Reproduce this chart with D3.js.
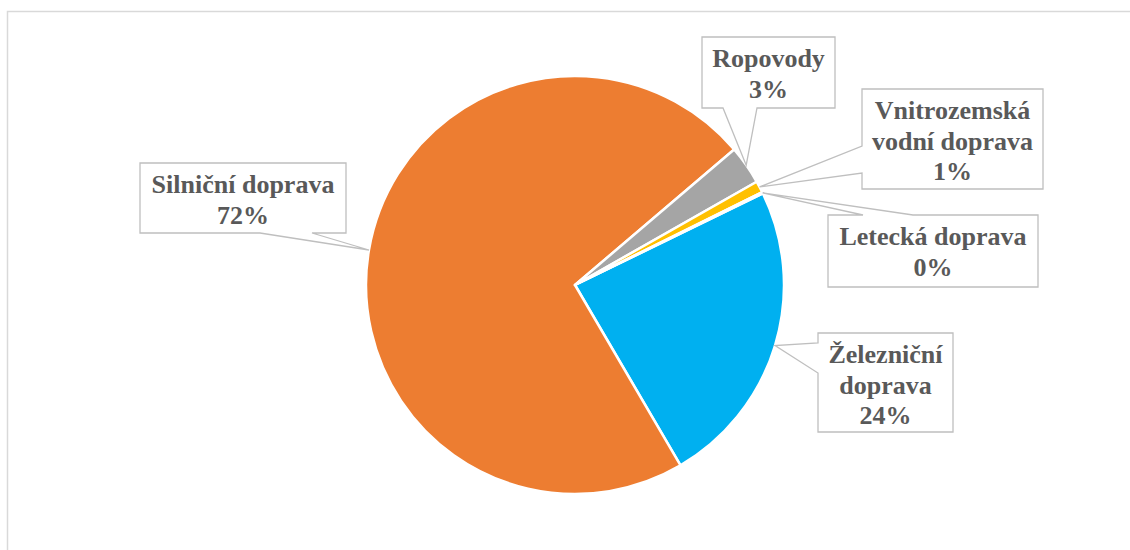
<!DOCTYPE html>
<html>
<head>
<meta charset="utf-8">
<script src="https://cdn.jsdelivr.net/npm/d3@7"></script>
<style>
  html, body { margin: 0; padding: 0; background: #fff; }
  svg { display: block; }
</style>
</head>
<body>
<svg id="chart" width="1130" height="550"></svg>
<script>
// Podíl druhů dopravy (%)
const categories = ["Železniční doprava", "Silniční doprava", "Ropovody", "Vnitrozemská vodní doprava", "Letecká doprava"];
const shares = [23.8, 72.2, 3.0, 0.9, 0.1];
const labelLines = [["Železniční", "doprava"], ["Silniční doprava"], ["Ropovody"], ["Vnitrozemská", "vodní doprava"], ["Letecká doprava"]];
const colors = ["#00B0F0", "#ED7D31", "#A5A5A5", "#FFC000", "#5B9BD5"];

// Layout of the pie and its callout boxes
const cx = 575, cy = 285, radius = 209;
const firstSliceAngle = 64; // degrees, clockwise from 12 o'clock
const callouts = [
  { x0: 818, y0: 333, x1: 953, y1: 432, side: "left",   a: 343, b: 373 },
  { x0: 140, y0: 163, x1: 346, y1: 233, side: "bottom", a: 260, b: 312 },
  { x0: 702, y0: 37,  x1: 835, y1: 108, side: "bottom", a: 723, b: 757 },
  { x0: 862, y0: 89,  x1: 1043, y1: 189, side: "left",  a: 146, b: 173 },
  { x0: 828, y0: 215, x1: 1038, y1: 287, side: "top",   a: 863, b: 913 }
];

const svg = d3.select("#chart");

// chart area frame
svg.append("rect")
  .attr("x", 7.5).attr("y", 11.5)
  .attr("width", 1140).attr("height", 560)
  .attr("fill", "none").attr("stroke", "#d9d9d9").attr("stroke-width", 1.5);

const data = categories.map((c, i) => ({ name: c, value: shares[i], i }));
const start = firstSliceAngle * Math.PI / 180;
const pie = d3.pie().value(d => d.value).sort(null)
  .startAngle(start).endAngle(start + 2 * Math.PI);
const arcs = pie(data);

const arc = d3.arc().innerRadius(0).outerRadius(radius);
const edge = d3.arc().innerRadius(radius).outerRadius(radius);

const g = svg.append("g").attr("transform", `translate(${cx},${cy})`);
g.selectAll("path.slice")
  .data(arcs)
  .join("path")
  .attr("class", "slice")
  .attr("d", arc)
  .attr("fill", d => colors[d.data.i])
  .attr("stroke", "#fff")
  .attr("stroke-width", 2.5)
  .attr("stroke-linejoin", "round");

// callout with a wedge pointing at the slice edge
function calloutPath(c, tx, ty) {
  const { x0, y0, x1, y1, side, a, b } = c;
  const p = d3.path();
  p.moveTo(x0, y0);
  if (side === "top") { p.lineTo(a, y0); p.lineTo(tx, ty); p.lineTo(b, y0); }
  p.lineTo(x1, y0);
  if (side === "right") { p.lineTo(x1, a); p.lineTo(tx, ty); p.lineTo(x1, b); }
  p.lineTo(x1, y1);
  if (side === "bottom") { p.lineTo(b, y1); p.lineTo(tx, ty); p.lineTo(a, y1); }
  p.lineTo(x0, y1);
  if (side === "left") { p.lineTo(x0, b); p.lineTo(tx, ty); p.lineTo(x0, a); }
  p.closePath();
  return p.toString();
}

const labels = svg.append("g");
arcs.forEach(d => {
  const i = d.data.i;
  const c = callouts[i];
  const [ex, ey] = edge.centroid(d);
  const tx = cx + ex, ty = cy + ey;
  labels.append("path")
    .attr("d", calloutPath(c, tx, ty))
    .attr("fill", "#fff")
    .attr("stroke", "#BFBFBF")
    .attr("stroke-width", 1.3)
    .attr("stroke-linejoin", "miter");
  const lines = labelLines[i].concat([Math.round(d.data.value) + "%"]);
  const midX = (c.x0 + c.x1) / 2;
  const t = labels.append("text")
    .attr("text-anchor", "middle")
    .attr("font-family", "'Liberation Serif', 'Times New Roman', serif")
    .attr("font-weight", "bold")
    .attr("font-size", 26)
    .attr("fill", "#595959");
  lines.forEach((ln, k) => {
    t.append("tspan").attr("x", midX).attr("y", c.y0 + 30 + 30.5 * k).text(ln);
  });
});
</script>
</body>
</html>
